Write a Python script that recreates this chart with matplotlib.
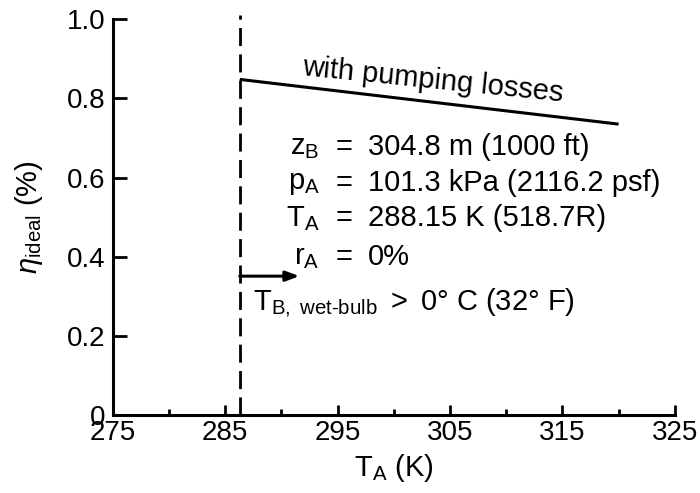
import matplotlib
matplotlib.use("Agg")
import matplotlib.pyplot as plt
from matplotlib.ticker import FixedLocator, FuncFormatter

plt.rcParams["font.family"] = ["Liberation Sans", "DejaVu Sans"]
plt.rcParams["mathtext.fontset"] = "custom"
plt.rcParams["mathtext.rm"] = "Liberation Sans"
plt.rcParams["mathtext.it"] = "Liberation Sans:italic"

# data
t_wetbulb_limit = 286.3          # K, where T_B,wet-bulb = 0 C
t_pump = [286.3, 320.0]          # K
eta_pump = [0.848, 0.735]        # efficiency with pumping losses
arrow_t = [286.3, 291.6]
arrow_eta = 0.351
x_major = [275, 285, 295, 305, 315, 325]
x_minor = [280, 290, 300, 310, 320]
y_ticks = [0, 0.2, 0.4, 0.6, 0.8, 1.0]

param_labels = [r"z$_\mathrm{B}$", r"p$_\mathrm{A}$", r"T$_\mathrm{A}$", r"r$_\mathrm{A}$"]
param_values = ["304.8 m (1000 ft)", "101.3 kPa (2116.2 psf)",
                "288.15 K (518.7R)", "0%"]

fig = plt.figure(figsize=(7.0, 4.93), dpi=100)
ax = fig.add_axes([0.161, 0.158, 0.803, 0.803])

# dashed wet-bulb limit
ax.plot([t_wetbulb_limit, t_wetbulb_limit], [0, 1.01], color="black", lw=2,
        linestyle=(0, (6.5, 3)), clip_on=False)

# efficiency line
ax.plot(t_pump, eta_pump, color="black", lw=2.2, solid_capstyle="butt")

# arrow
ax.annotate("", xy=(arrow_t[1], arrow_eta), xytext=(arrow_t[0], arrow_eta),
            arrowprops=dict(arrowstyle="-|>,head_length=0.8,head_width=0.3",
                            color="black", lw=2.2, shrinkA=0, shrinkB=0))

ax.text(303.5, 0.846, "with pumping losses", fontsize=21, rotation=-5.8,
        ha="center", va="center", rotation_mode="anchor")

rows = [0.677, 0.586, 0.497, 0.399]
for lab, val, yy in zip(param_labels, param_values, rows):
    ax.text(293.4, yy, lab, fontsize=21, ha="right", va="center")
    ax.text(295.6, yy, "=", fontsize=21, ha="center", va="center")
    ax.text(297.7, yy, val, fontsize=21, ha="left", va="center")

ax.text(287.5, 0.285, "T$_\\mathrm{B,\\ wet\u2010bulb}$ $>$ 0\u00b0 C (32\u00b0 F)",
        fontsize=21, ha="left", va="center")

ax.set_xlim(275, 325)
ax.set_ylim(0, 1.0)
ax.xaxis.set_major_locator(FixedLocator(x_major))
ax.xaxis.set_minor_locator(FixedLocator(x_minor))
ax.yaxis.set_major_locator(FixedLocator(y_ticks))
ax.yaxis.set_major_formatter(FuncFormatter(lambda v, p: "0" if v == 0 else f"{v:.1f}"))

for s in ["top", "right"]:
    ax.spines[s].set_visible(False)
for s in ["left", "bottom"]:
    ax.spines[s].set_linewidth(2.2)

ax.tick_params(axis="both", which="major", direction="in", width=2, labelsize=20)
ax.tick_params(axis="x", which="major", length=7, pad=3.5)
ax.tick_params(axis="x", which="minor", direction="in", width=2, length=4.5)
ax.tick_params(axis="y", which="major", length=10, pad=5)

ax.set_xlabel(r"T$_\mathrm{A}$ (K)", fontsize=21, labelpad=4)
ax.set_ylabel(r"$\eta_\mathrm{ideal}$ (%)", fontsize=21, labelpad=16)

fig.savefig("out.png", dpi=100)
